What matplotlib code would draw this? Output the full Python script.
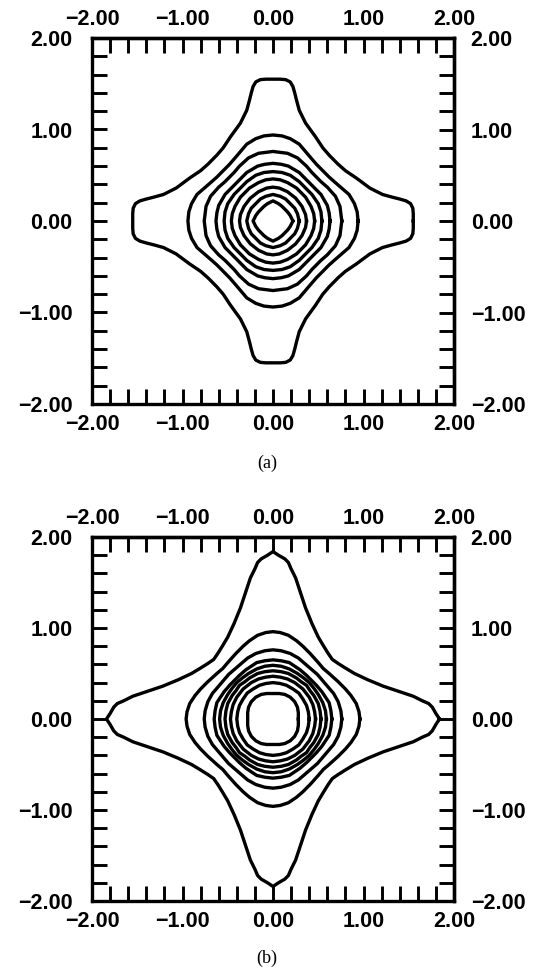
import numpy as np
import matplotlib
matplotlib.use('agg')
import matplotlib.pyplot as plt
from matplotlib.ticker import MultipleLocator, FixedLocator, FuncFormatter

# the plots have square (8-fold) symmetry so the rest is mirrored
a_outer = [(1.55, 0.00), (1.55, 0.08), (1.545, 0.14), (1.52, 0.19), (1.47, 0.22), (1.40, 0.24),
           (1.32, 0.26), (1.21, 0.29), (1.07, 0.36), (0.92, 0.47), (0.80, 0.55), (0.72, 0.62), (0.67, 0.67)]
a_ring2 = [(0.94, 0.00), (0.93, 0.10), (0.90, 0.19), (0.84, 0.29), (0.77, 0.35), (0.70, 0.41), (0.62, 0.48), (0.55, 0.55)]
a_ring3 = [(0.76, 0.00), (0.75, 0.08), (0.74, 0.16), (0.69, 0.27), (0.60, 0.37), (0.53, 0.43), (0.48, 0.48)]
a_ring4 = [(0.63, 0.00), (0.62, 0.09), (0.60, 0.17), (0.53, 0.29), (0.46, 0.36), (0.41, 0.41)]
a_ring5 = [(0.54, 0.00), (0.53, 0.10), (0.50, 0.19), (0.43, 0.29), (0.36, 0.36)]
a_ring6 = [(0.46, 0.00), (0.45, 0.08), (0.42, 0.16), (0.36, 0.26), (0.31, 0.31)]
a_ring7 = [(0.37, 0.00), (0.36, 0.07), (0.32, 0.16), (0.25, 0.25)]
a_ring8 = [(0.29, 0.00), (0.27, 0.08), (0.24, 0.14), (0.19, 0.19)]
a_inner = [(0.22, 0.00), (0.19, 0.06), (0.16, 0.10), (0.13, 0.13)]

b_outer = [(1.84, 0.00), (1.80, 0.06), (1.76, 0.13), (1.72, 0.17), (1.65, 0.20), (1.55, 0.25), (1.40, 0.30),
           (1.22, 0.36), (1.05, 0.43), (0.90, 0.50), (0.80, 0.56), (0.72, 0.61), (0.655, 0.655)]
b_ring2 = [(0.96, 0.00), (0.95, 0.08), (0.92, 0.17), (0.86, 0.26), (0.80, 0.33), (0.72, 0.41), (0.62, 0.50), (0.555, 0.555)]
b_ring3 = [(0.76, 0.00), (0.75, 0.09), (0.72, 0.19), (0.67, 0.28), (0.61, 0.35), (0.55, 0.42), (0.49, 0.49)]
b_ring4 = [(0.65, 0.00), (0.64, 0.09), (0.62, 0.18), (0.54, 0.30), (0.48, 0.37), (0.425, 0.425)]
b_ring5 = [(0.59, 0.00), (0.58, 0.09), (0.55, 0.18), (0.50, 0.27), (0.45, 0.34), (0.40, 0.40)]
b_ring6 = [(0.53, 0.00), (0.52, 0.09), (0.50, 0.17), (0.45, 0.26), (0.41, 0.31), (0.37, 0.37)]
b_ring7 = [(0.47, 0.00), (0.46, 0.08), (0.44, 0.16), (0.40, 0.24), (0.33, 0.33)]
b_ring8 = [(0.40, 0.00), (0.39, 0.08), (0.37, 0.15), (0.33, 0.22), (0.285, 0.285)]
b_inner = [(0.28, 0.00), (0.28, 0.07), (0.27, 0.13), (0.24, 0.19), (0.215, 0.215)]

panel_a = [a_outer, a_ring2, a_ring3, a_ring4, a_ring5, a_ring6, a_ring7, a_ring8, a_inner]
panel_b = [b_outer, b_ring2, b_ring3, b_ring4, b_ring5, b_ring6, b_ring7, b_ring8, b_inner]
captions = ['(a)', '(b)']
tick_labels = [-2.0, -1.0, 0.0, 1.0, 2.0]


def full_curve(octant):
    # mirror the octant into a closed curve: diagonal, then y axis, then x axis
    q1 = list(octant) + [(y, x) for (x, y) in reversed(octant[:-1])]
    upper = q1 + [(-x, y) for (x, y) in reversed(q1[:-1])]
    ring = np.array(upper + [(x, -y) for (x, y) in reversed(upper[:-1])])
    return ring[:, 0], ring[:, 1]


plt.rcParams['font.family'] = ['Liberation Sans', 'DejaVu Sans']
plt.rcParams['font.weight'] = 'bold'

fmt = FuncFormatter(lambda v, pos: "{:.2f}".format(v).replace('-', '\u2212'))
LW = 2.4
TICK = dict(which='both', direction='in', length=10.5, width=2.1, labelsize=15.5)


def setup_ticks(axis_obj):
    axis_obj.set_major_locator(FixedLocator(tick_labels))
    axis_obj.set_minor_locator(MultipleLocator(0.2))
    axis_obj.set_major_formatter(fmt)


fig = plt.figure(figsize=(5.46, 9.72), dpi=100)
boxes = [[92/546, 1-404/972, 362/546, 366/972],
         [92/546, 1-901/972, 362/546, 364/972]]
cap_y = [1-463/972, 1-958/972]

for rect, contours, cap, cy in zip(boxes, [panel_a, panel_b], captions, cap_y):
    ax = fig.add_axes(rect)
    for oct_pts in contours:
        xs, ys = full_curve(oct_pts)
        ax.plot(xs, ys, color='black', lw=LW, solid_joinstyle='round')
    ax.set_xlim(-2, 2)
    ax.set_ylim(-2, 2)
    for s in ax.spines.values():
        s.set_linewidth(LW)

    setup_ticks(ax.xaxis)
    setup_ticks(ax.yaxis)
    ax.tick_params(**TICK)
    ax.tick_params(axis='x', pad=7.5)
    ax.tick_params(axis='y', pad=14)

    top = ax.secondary_xaxis('top')
    setup_ticks(top.xaxis)
    top.tick_params(pad=5.5, **TICK)
    top.spines['top'].set_linewidth(LW)

    right = ax.secondary_yaxis('right')
    setup_ticks(right.yaxis)
    right.tick_params(pad=12, **TICK)
    right.spines['right'].set_linewidth(LW)

    fig.text(267/546, cy, cap, ha='center', va='center', family='Liberation Serif',
             fontsize=13, fontweight='normal')

fig.savefig('out.png', dpi=100)
